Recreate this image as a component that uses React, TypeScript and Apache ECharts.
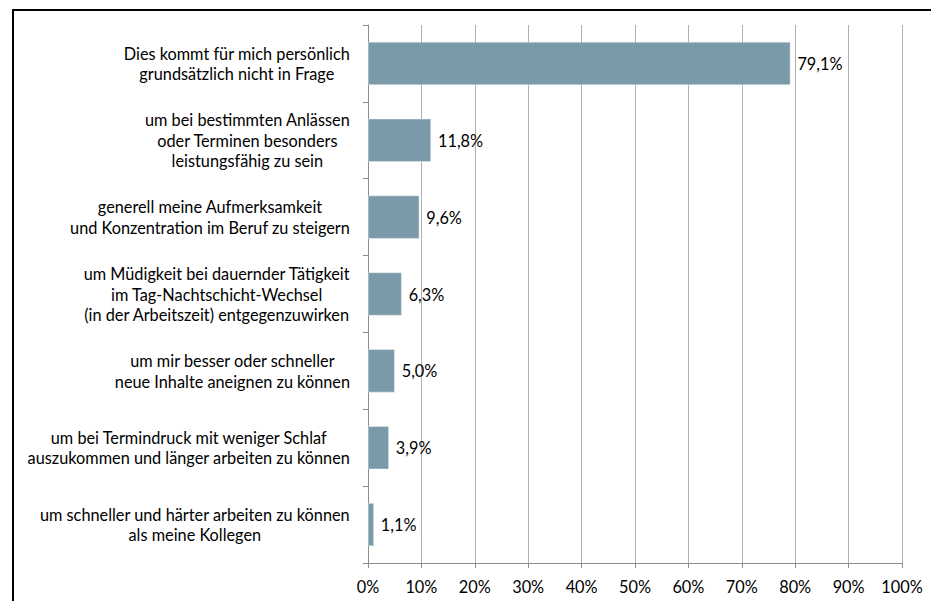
import React, { useEffect, useRef } from "react";
import * as echarts from "echarts";

const categories: string[] = [
  "Dies kommt für mich persönlich\ngrundsätzlich nicht in Frage",
  "um bei bestimmten Anlässen\noder Terminen besonders\nleistungsfähig zu sein",
  "generell meine Aufmerksamkeit\nund Konzentration im Beruf zu steigern",
  "um Müdigkeit bei dauernder Tätigkeit\nim Tag-Nachtschicht-Wechsel\n(in der Arbeitszeit) entgegenzuwirken",
  "um mir besser oder schneller\nneue Inhalte aneignen zu können",
  "um bei Termindruck mit weniger Schlaf\nauszukommen und länger arbeiten zu können",
  "um schneller und härter arbeiten zu können\nals meine Kollegen",
];

const values: number[] = [79.1, 11.8, 9.6, 6.3, 5.0, 3.9, 1.1];

const FONT = "Lato, 'Noto Sans', sans-serif";
const FS = 16.3;

export default function App() {
  const ref = useRef<HTMLDivElement>(null);

  useEffect(() => {
    if (!ref.current) return;
    const chart = echarts.init(ref.current, undefined, { renderer: "svg" });
    chart.setOption({
      animation: false,
      backgroundColor: "#ffffff",
      textStyle: { fontFamily: FONT },
      graphic: [
        {
          type: "rect",
          shape: { x: 13, y: 10, width: 1000, height: 700 },
          style: { fill: "none", stroke: "#000000", lineWidth: 2 },
          silent: true,
        },
      ],
      grid: { left: 368, right: 29, top: 25, bottom: 38, containLabel: false },
      xAxis: {
        type: "value",
        min: 0,
        max: 100,
        interval: 10,
        axisLine: { show: true, lineStyle: { color: "#8c8c8c", width: 1 } },
        axisTick: { show: true, length: 5, lineStyle: { color: "#8c8c8c" } },
        splitLine: { show: true, lineStyle: { color: "#b0b0b0", width: 1 } },
        axisLabel: {
          formatter: "{value}%",
          color: "#000000",
          fontFamily: FONT,
          fontSize: FS,
          margin: 15,
        },
      },
      yAxis: {
        type: "category",
        inverse: true,
        data: categories,
        axisLine: { show: true, lineStyle: { color: "#8c8c8c", width: 1 } },
        axisTick: { show: true, length: 5, alignWithLabel: false, lineStyle: { color: "#8c8c8c" } },
        splitLine: { show: false },
        axisLabel: {
          margin: 18,
          color: "#000000",
          fontFamily: FONT,
          fontSize: FS,
          lineHeight: 20.5,
          formatter: (v: string) =>
            v
              .split("\n")
              .map((l) => `{c|${l}}`)
              .join("\n"),
          rich: {
            c: {
              align: "center",
              color: "#000000",
              fontFamily: FONT,
              fontSize: FS,
              lineHeight: 20.5,
            },
          },
        },
      },
      series: [
        {
          type: "bar",
          data: values,
          barWidth: "56%",
          itemStyle: { color: "#7a9aaa", borderColor: "#e6eef2", borderWidth: 0.5 },
          label: {
            show: true,
            position: "right",
            distance: 7,
            color: "#000000",
            fontFamily: FONT,
            fontSize: FS,
            formatter: (p: any) => `${Number(p.value).toFixed(1).replace(".", ",")}%`,
          },
        },
      ],
    });
    return () => chart.dispose();
  }, []);

  return (
    <div
      ref={ref}
      style={{ position: "fixed", left: 0, top: 0, width: 931, height: 601 }}
    />
  );
}
